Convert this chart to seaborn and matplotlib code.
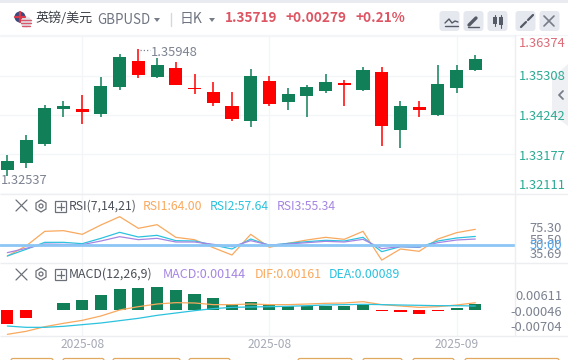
import matplotlib
matplotlib.use("Agg")
import matplotlib.pyplot as plt
import numpy as np
import pandas as pd
import seaborn as sns
from matplotlib.patches import Circle, FancyBboxPatch, Polygon, Rectangle

# candles
opens = [1.32752, 1.32941, 1.33456, 1.34405, 1.34405, 1.34269, 1.35001, 1.35705, 1.35272, 1.35516, 1.34974, 1.34865, 1.34486,
         1.34079, 1.35163, 1.34594, 1.34757, 1.34892, 1.35109, 1.3492, 1.35407, 1.33836, 1.34459, 1.34242, 1.34974, 1.35462]
closes = [1.32996, 1.33565, 1.34432, 1.34486, 1.34323, 1.35028, 1.35814, 1.35326, 1.35597, 1.35055, 1.34947, 1.34567, 1.34134,
          1.35299, 1.3454, 1.34811, 1.35001, 1.35136, 1.35055, 1.35462, 1.33944, 1.34486, 1.34378, 1.35082, 1.35462, 1.3576]
highs = [1.33158, 1.337, 1.34513, 1.34621, 1.34784, 1.35272, 1.35895, 1.36022, 1.35787, 1.35678, 1.35353, 1.35136, 1.34865,
         1.35489, 1.35299, 1.34974, 1.35055, 1.35353, 1.35191, 1.35543, 1.35543, 1.34621, 1.34621, 1.35597, 1.35597, 1.35868]
lows = [1.32598, 1.32806, 1.33402, 1.34188, 1.33998, 1.34188, 1.3492, 1.35245, 1.35245, 1.35055, 1.34811, 1.34486, 1.34079,
        1.33917, 1.34486, 1.34378, 1.34188, 1.34838, 1.34486, 1.34892, 1.33402, 1.33348, 1.34188, 1.34215, 1.34838, 1.35434]

# indicators
rsi1 = [40.18, 49.11, 62.2, 62.8, 59.52, 67.86, 75.3, 64.88, 68.15, 56.84, 54.76, 47.62, 41.07,
        59.52, 47.92, 51.49, 54.46, 56.84, 55.06, 62.2, 36.5, 46.43, 44.35, 55.36, 61.0, 64.0]
rsi2 = [40.18, 46.13, 52.38, 52.38, 51.19, 55.95, 61.31, 57.14, 58.63, 53.87, 53.57, 50.0, 46.43,
        55.36, 49.7, 51.49, 52.98, 54.17, 53.57, 56.84, 44.05, 48.51, 47.92, 53.57, 56.25, 57.64]
rsi3 = [43.16, 47.02, 50.89, 50.6, 50.3, 53.57, 57.44, 54.76, 55.95, 52.68, 52.68, 50.6, 48.51,
        53.87, 50.0, 50.89, 52.08, 53.27, 52.68, 55.06, 46.73, 48.51, 48.21, 52.08, 54.46, 55.34]
macd_hist = [-0.00311, -0.00178, 0.0001, 0.00156, 0.00222, 0.00333, 0.00467, 0.00489, 0.00511, 0.00445, 0.00356, 0.00267, 0.00133,
             0.00178, 0.00111, 0.00089, 0.00082, 0.00096, 0.00096, 0.00119, -0.00015, -0.00044, -0.00089, -0.00015, 0.00044, 0.00144]
dif = [-0.00541, -0.00474, -0.00371, -0.00296, -0.0023, -0.00133, 0.0, 0.00074, 0.00133, 0.00163, 0.00156, 0.00119, 0.00119,
       0.00133, 0.00119, 0.00119, 0.00133, 0.00148, 0.00156, 0.00185, 0.00119, 0.00089, 0.00059, 0.00074, 0.00111, 0.00161]
dea = [-0.00356, -0.00385, -0.00385, -0.00363, -0.00326, -0.00289, -0.00237, -0.00185, -0.00119, -0.00067, -0.00015, 0.0003, 0.00059,
       0.00067, 0.00074, 0.00082, 0.00096, 0.00111, 0.00119, 0.00126, 0.00119, 0.00111, 0.00104, 0.00096, 0.00096, 0.00089]

price_ticks = [1.36374, 1.35308, 1.34242, 1.33177, 1.32111]
date_idx = [4, 14, 24]
date_labels = ["2025-08", "2025-08", "2025-09"]

GREEN = "#118059"
RED = "#ff0000"
ORANGE = "#f9a95e"
CYAN = "#2cc2de"
PURPLE = "#a585e3"
GRID = "#f3f5f8"
LINE = "#eceef2"
TXT = "#7c8290"

sns.set_theme(style="white")
plt.rcParams["font.family"] = ["Noto Sans CJK SC", "DejaVu Sans"]

W, H = 568, 360
fig = plt.figure(figsize=(W / 100, H / 100), dpi=100, facecolor="white")
XLIM = (-0.392, 27.12)


def panel(y0, y1):
    ax = fig.add_axes([0, 1 - y1 / H, 515 / W, (y1 - y0) / H], facecolor="none")
    sns.despine(ax=ax, left=True, bottom=True)
    return ax


def finish(ax, ylim):
    ax.set_xlim(*XLIM)
    ax.set_ylim(*ylim)
    ax.set_xticks(date_idx)
    ax.set_xticklabels([])
    ax.set_xlabel("")
    ax.set_ylabel("")
    ax.grid(axis="x", color=GRID, lw=1)
    ax.set_axisbelow(True)
    ax.tick_params(length=0, labelleft=False, labelbottom=False)


# price panel
ax = panel(35, 194)
idx = np.arange(len(opens))
cols = [GREEN if c >= o else RED for o, c in zip(opens, closes)]
ax.vlines(idx, lows, highs, colors=cols, lw=1.1)
ax.bar(idx, np.abs(np.array(closes) - np.array(opens)), bottom=np.minimum(opens, closes), width=0.7,
       color=cols, linewidth=0)
ax.set_yticks(price_ticks)
ax.grid(axis="y", color=GRID, lw=1)
finish(ax, (1.35308 - 355 * 0.00009033, 1.35308 + 122 * 0.00009033))

# RSI panel
ax2 = panel(194, 263)
rsi_df = pd.DataFrame({"i": idx, "RSI1": rsi1, "RSI2": rsi2, "RSI3": rsi3}).melt("i")
sns.lineplot(data=rsi_df, x="i", y="value", hue="variable", palette=[ORANGE, CYAN, PURPLE],
             lw=0.9, legend=False, ax=ax2)
ax2.axhline(50, color="#8cc6f5", lw=2, zorder=3)
finish(ax2, (50 - 18 / 1.12, 50 + 51 / 1.12))

# MACD panel
ax3 = panel(263, 336)
hist_df = pd.DataFrame({"i": idx, "v": macd_hist, "up": [v >= 0 for v in macd_hist]})
sns.barplot(data=hist_df, x="i", y="v", hue="up", palette={True: GREEN, False: RED}, native_scale=True,
            dodge=False, width=0.65, saturation=1, linewidth=0, legend=False, ax=ax3)
macd_df = pd.DataFrame({"i": idx, "DIF": dif, "DEA": dea}).melt("i")
sns.lineplot(data=macd_df, x="i", y="value", hue="variable", palette=[ORANGE, CYAN], lw=0.9, legend=False, ax=ax3)
finish(ax3, (-26 / 4500, 47 / 4500))

# page chrome in pixel coordinates
ov = fig.add_axes([0, 0, 1, 1], facecolor="none")
ov.set_xlim(0, W)
ov.set_ylim(H, 0)
ov.axis("off")


def t(x, y, s, color=TXT, size=9.3, ha="left", **kw):
    ov.text(x, y, s, color=color, fontsize=size, ha=ha, va="center", **kw)


def hline(y, x0=0, x1=W, color=LINE, lw=1):
    ov.plot([x0, x1], [y, y], color=color, lw=lw, solid_capstyle="butt")


ov.add_patch(Rectangle((0, 0), W, 3, color="#e9ebf0", lw=0))
for y in (35, 194, 263, 336):
    hline(y, color="#f4f5f8" if y == 35 else LINE)
ov.plot([514.7, 514.7], [35, 336], color=LINE, lw=1)

# flags
ov.add_patch(Circle((20, 17), 5.5, color="#3a4a80", lw=0))
ov.plot([15, 25], [17, 17], color="#d83a4a", lw=1.6)
ov.plot([20, 20], [12, 22], color="#d83a4a", lw=1.6)
ov.add_patch(Circle((26, 22), 5.5, color="#e4e4ea", lw=0))
ov.plot([21, 31], [20, 20], color="#d85a6a", lw=1)
ov.plot([21, 31], [23, 23], color="#d85a6a", lw=1)
ov.plot([22, 30], [26, 26], color="#d85a6a", lw=1)

t(35, 18.5, "英镑/美元", color="#3c4048", size=9.4)
t(97, 20, "GBPUSD", color="#6e7480", size=9.6)
ov.add_patch(Polygon([[154, 18], [160, 18], [157, 22]], color="#777d88", lw=0))
ov.plot([170.5, 170.5], [13, 26], color="#d5d8de", lw=1)
t(180, 18.5, "日K", color="#6e7480", size=10)
ov.add_patch(Polygon([[209, 18], [215, 18], [212, 22]], color="#777d88", lw=0))
t(225, 18.5, "1.35719", color="#dd5563", size=9.8, fontweight="bold")
t(286, 18.5, "+0.00279", color="#dd5563", size=9.8, fontweight="bold")
t(355, 18.5, "+0.21%", color="#dd5563", size=9.8, fontweight="bold")

# toolbar buttons
for bx in (440, 464, 488, 516, 540):
    ov.add_patch(FancyBboxPatch((bx - 0.5, 11), 20, 20, boxstyle="round,pad=0,rounding_size=3", fc="#e6e8ef", ec="none"))
ov.plot([445, 449, 452, 455, 458], [23, 19, 23, 21, 22], color="#555b66", lw=1)
ov.plot([445, 458], [26, 26], color="#555b66", lw=1)
ov.plot([469, 476], [25, 18], color="#555b66", lw=2.4)
ov.plot([468, 479], [27, 27], color="#555b66", lw=1)
ov.bar([495, 501], [7, 8], bottom=[17, 17], width=3.5, color="#555b66", linewidth=0)
ov.plot([495, 495], [15, 26], color="#555b66", lw=0.8)
ov.plot([501, 501], [15, 28], color="#555b66", lw=0.8)
ov.plot([521, 526], [27, 22], color="#555b66", lw=1.6)
ov.plot([528, 533], [20, 15], color="#555b66", lw=1.6)
ov.plot([544, 554], [16, 26], color="#777d88", lw=1.2)
ov.plot([554, 544], [16, 26], color="#777d88", lw=1.2)
ov.set_xlim(0, W)
ov.set_ylim(H, 0)

# collapse tab
ov.add_patch(Polygon([[568, 64], [552, 78], [552, 114], [568, 126]], color="#eff0f4", lw=0))
ov.plot([563, 559, 563], [91, 95, 99], color="#777d88", lw=1.3)

# price labels
for y, s, c in [(43.5, "1.36374", "#dd6b78"), (77, "1.35308", "#2bab94"), (117, "1.34242", "#2bab94"),
                (156.5, "1.33177", "#2bab94"), (185.5, "1.32111", "#2bab94")]:
    t(519, y, s, color=c)
t(0.5, 181, "1.32537")
ov.plot([140, 149.5], [50, 50], color=TXT, lw=0.9, ls=(0, (1, 1.6)))
t(150.5, 52.5, "1.35948")

# RSI header and labels
ov.plot([16, 27], [200, 211], color="#6b7078", lw=0.9)
ov.plot([27, 16], [200, 211], color="#6b7078", lw=0.9)
ov.add_patch(Polygon([[41, 200], [46, 203], [46, 209], [41, 212], [36, 209], [36, 203]], fc="none", ec="#6b7078", lw=0.9))
ov.add_patch(Circle((41, 206), 2, fc="none", ec="#6b7078", lw=0.9))
ov.add_patch(Rectangle((55, 201), 11, 11, fc="none", ec="#6b7078", lw=0.9))
ov.plot([57, 64], [206.5, 206.5], color="#6b7078", lw=0.9)
ov.plot([60.5, 60.5], [203, 210], color="#6b7078", lw=0.9)
t(69, 206, "RSI(7,14,21)", color="#4c5058", size=8.8)
t(143, 206, "RSI1:64.00", color=ORANGE, size=8.8)
t(210, 206, "RSI2:57.64", color=CYAN, size=8.8)
t(277, 206, "RSI3:55.34", color=PURPLE, size=8.8)
for y, s, c in [(228.5, "75.30", TXT), (240, "55.50", TXT), (245.5, "50.00", "#4aa3f0"), (254.5, "35.69", TXT)]:
    t(562, y, s, color=c, ha="right")

# MACD header and labels
ov.plot([16, 27], [269, 280], color="#6b7078", lw=0.9)
ov.plot([27, 16], [269, 280], color="#6b7078", lw=0.9)
ov.add_patch(Polygon([[41, 268], [46, 271], [46, 277], [41, 280], [36, 277], [36, 271]], fc="none", ec="#6b7078", lw=0.9))
ov.add_patch(Circle((41, 274), 2, fc="none", ec="#6b7078", lw=0.9))
ov.add_patch(Rectangle((55, 269), 11, 11, fc="none", ec="#6b7078", lw=0.9))
ov.plot([57, 64], [274.5, 274.5], color="#6b7078", lw=0.9)
ov.plot([60.5, 60.5], [271, 278], color="#6b7078", lw=0.9)
t(69, 274, "MACD(12,26,9)", color="#4c5058", size=8.9)
t(163, 274, "MACD:0.00144", color=PURPLE, size=9)
t(255, 274, "DIF:0.00161", color=ORANGE, size=8.9)
t(329, 274, "DEA:0.00089", color=CYAN, size=8.9)
for y, s in [(296.5, "0.00611"), (312.5, "-0.00046"), (327.5, "-0.00704")]:
    t(562, y, s, ha="right")

# date labels
for i, s in zip(date_idx, date_labels):
    t(7.33 + i * 18.72, 344.5, s, color="#a5a9b5", size=8.6, ha="center")

# orange buttons cut off at the bottom edge
for x0, x1 in [(11, 53), (63, 104), (113, 180), (189, 230), (298, 352), (363, 402), (413, 454), (465, 559)]:
    ov.add_patch(FancyBboxPatch((x0, 358.5), x1 - x0, 8, boxstyle="round,pad=0,rounding_size=2", fc="white", ec="#e0a860", lw=0.9))

fig.savefig("out.png", dpi=100)
